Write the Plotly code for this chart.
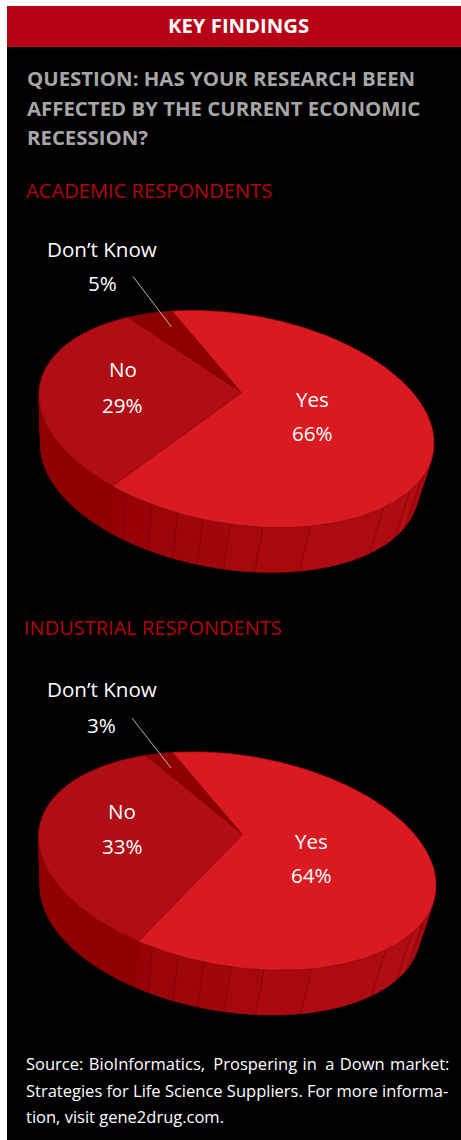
import math
import plotly.graph_objects as go

# Survey shares, listed in the order the slices run round the pie
categories = ["Don\u2019t Know", "No", "Yes"]
academic_values = [5, 29, 66]
industrial_values = [3, 33, 64]

section_titles = ["ACADEMIC RESPONDENTS", "INDUSTRIAL RESPONDENTS"]
heading = "KEY FINDINGS"
question_lines = [
    "QUESTION: HAS YOUR RESEARCH BEEN",
    "AFFECTED BY THE CURRENT ECONOMIC",
    "RECESSION?",
]
source_lines = [
    "Source:\u2004BioInformatics,\u2002Prospering\u2004in\u2002a\u2004Down\u2004market:",
    "Strategies for Life Science Suppliers. For more informa-",
    "tion, visit gene2drug.com.",
]

# Slice and side-wall colours
TOP_COLORS = {"Don\u2019t Know": "#8c0000", "No": "#b00d14", "Yes": "#da1a21"}
WALL_COLORS = {"Don\u2019t Know": "#8c0000", "No": "#910000"}
# Side-wall facets: seam angles in degrees and the shade of the "Yes" wall between them
SEAMS = [-142.5, -150.7, -158, -165, -171.2, -177, 176.8, 169.5, 158.4, 137, 125.5, 119]
SHADES = ["#930003", "#940005", "#980007", "#9b050a", "#9e060b", "#a1060c", "#a5080e",
          "#a9090f", "#ae0b12", "#b00d14", "#b20e15", "#a90b11"]
START_DEG = -31.9

# Projection of the tilted disc onto the page
ELLIPSE_A, ELLIPSE_SKEW, ELLIPSE_B = 197.5, 24.0, 105.8
APEX_OFFSET = (5.2, -26.3)
VANISH = (76.0, 1527.0)
WALL_SCALE = 0.955

RED = "#b5000f"
GREY = "#a6a6a6"
FONT = "Open Sans"

ux = APEX_OFFSET[0] / ELLIPSE_A
uy = (APEX_OFFSET[1] - ELLIPSE_SKEW * ux) / ELLIPSE_B
S = math.hypot(ux, uy)
D = (ux / S, uy / S)
E = (-D[1], D[0])
ROOT = math.sqrt(1 - S * S)


def rim(deg, cx, cy, scale):
    """Page position of a rim point at the given disc angle."""
    p, q = math.cos(math.radians(deg)), math.sin(math.radians(deg))
    den = 1 + S * p
    par, per = (p + S) / den, q * ROOT / den
    x = par * D[0] + per * E[0]
    y = par * D[1] + per * E[1]
    return cx + scale * ELLIPSE_A * x, cy + scale * (ELLIPSE_SKEW * x + ELLIPSE_B * y)


def lower(pt, dy):
    return (VANISH[0] + WALL_SCALE * (pt[0] - VANISH[0]),
            VANISH[1] + dy + WALL_SCALE * (pt[1] - VANISH[1] - dy))


def sweep(a, b, step=1.0):
    n = max(2, int(abs(b - a) / step) + 1)
    return [a + (b - a) * i / (n - 1) for i in range(n)]


def poly(fig, pts, fill, edge=None, width=0.5):
    fig.add_trace(go.Scatter(
        x=[p[0] for p in pts] + [pts[0][0]],
        y=[p[1] for p in pts] + [pts[0][1]],
        mode="lines", fill="toself", fillcolor=fill,
        line=dict(color=edge or fill, width=width),
        hoverinfo="skip", showlegend=False))


def wall_band(fig, top, low, fill):
    """One wall piece as a run of small quads, so it survives the fold at the silhouette."""
    xs, ys = [], []
    for p0, p1 in zip(top[:-1], top[1:]):
        quad = [p0, p1, low(p1), low(p0), p0]
        xs += [q[0] for q in quad] + [None]
        ys += [q[1] for q in quad] + [None]
    fig.add_trace(go.Scatter(x=xs, y=ys, mode="lines", fill="toself", fillcolor=fill,
                             line=dict(color=fill, width=0.5),
                             hoverinfo="skip", showlegend=False))


def shade_at(angle):
    """Shade of the Yes wall at an angle measured as degrees clockwise past the first seam."""
    off = (SEAMS[0] - angle) % 360
    for i in range(len(SEAMS) - 1):
        if off <= (SEAMS[0] - SEAMS[i + 1]) % 360:
            return SHADES[i]
    return SHADES[-1]


def draw_pie(fig, values, cx, cy, scale, dy):
    # Slice boundaries run clockwise in disc angle, starting with the smallest slice
    bounds = [START_DEG]
    for v in values:
        bounds.append(bounds[-1] - v * 3.6)

    low = lambda p: lower(p, dy)
    # Walls first: the top surface is painted over whatever part lies behind it
    for name, a, b in zip(categories, bounds[:-1], bounds[1:]):
        if name == "Yes":
            # cut at each seam so every facet keeps its own flat shade
            cuts = [a]
            for s in SEAMS:
                t = s
                while t > a:
                    t -= 360
                if b < t < a:
                    cuts.append(t)
            cuts = sorted(set(cuts), reverse=True) + [b]
            pieces = list(zip(cuts[:-1], cuts[1:]))
            pieces = [(u, v, shade_at((u + v) / 2)) for u, v in pieces]
        else:
            pieces = [(a, b, WALL_COLORS[name])]
        for u, v, col in pieces:
            wall_band(fig, [rim(t, cx, cy, scale) for t in sweep(u, v)], low, col)

    # Seams between facets
    for s in SEAMS:
        p = rim(s, cx, cy, scale)
        q = low(p)
        fig.add_trace(go.Scatter(x=[p[0], q[0]], y=[p[1], q[1]], mode="lines",
                                 line=dict(color="#6e0007", width=0.5),
                                 hoverinfo="skip", showlegend=False))

    # Top surface
    apex_x = cx + scale * APEX_OFFSET[0]
    apex_y = cy + scale * APEX_OFFSET[1]
    for name, a, b in zip(categories, bounds[:-1], bounds[1:]):
        pts = [(apex_x, apex_y)] + [rim(t, cx, cy, scale) for t in sweep(a, b)]
        poly(fig, pts, TOP_COLORS[name], edge="#8a0a10", width=0.4)


fig = go.Figure()
draw_pie(fig, academic_values, 236.5, 419.0, 1.0, 0.0)
draw_pie(fig, industrial_values, 237.3, 861.0, 1.006, 441.5)

shapes = [
    dict(type="rect", x0=7, x1=461, y0=6, y1=1140, fillcolor="#000000", line_width=0, layer="below"),
    dict(type="rect", x0=7, x1=461, y0=6, y1=47, fillcolor="#b80017", line_width=0, layer="below"),
    dict(type="line", x0=133, y0=276.5, x1=171.5, y1=327, line=dict(color="#ffffff", width=0.7)),
    dict(type="line", x0=132, y0=718, x1=171, y1=768, line=dict(color="#ffffff", width=0.7)),
]


def label(text, x, y, size, color="#ffffff", anchor="center", bold=False):
    return dict(x=x, y=y, xref="x", yref="y", text=f"<b>{text}</b>" if bold else text,
                showarrow=False, xanchor=anchor, yanchor="middle",
                font=dict(family=FONT, size=size, color=color))


notes = [label(heading, 238, 24.5, 20.3, bold=True)]
for line, y in zip(question_lines, [77.5, 107.5, 136.5]):
    notes.append(label(line, 24.5, y, 20.4, GREY, "left", True))
notes.append(label(section_titles[0], 24, 189.5, 20.15, RED, "left"))
notes.append(label(section_titles[1], 22, 627.5, 20, RED, "left"))

# Slice captions and percentages, academic then industrial
for values, dk, no, yes in [
    (academic_values, (102, 248.5, 282.5), (122.5, 369, 404.5), (312, 398.5, 432.5)),
    (industrial_values, (101.5, 689, 724.5), (122, 810.5, 845.5), (311, 840.5, 874.5)),
]:
    for name, val, (x, y1, y2) in zip(categories, values, [dk, no, yes]):
        notes.append(label(name, x, y1, 20.6))
        notes.append(label(f"{val}%", x, y2, 20.6))

for line, y in zip(source_lines, [1063, 1090, 1116]):
    notes.append(label(line, 24, y, 16.5, "#ffffff", "left"))

fig.update_layout(
    width=461, height=1140, margin=dict(l=0, r=0, t=0, b=0),
    paper_bgcolor="#ffffff", plot_bgcolor="#ffffff", showlegend=False,
    xaxis=dict(range=[0, 461], visible=False, fixedrange=True),
    yaxis=dict(range=[1140, 0], visible=False, fixedrange=True),
    shapes=shapes, annotations=notes, hovermode=False,
)
fig.write_html("out.html", config={"displayModeBar": False})
